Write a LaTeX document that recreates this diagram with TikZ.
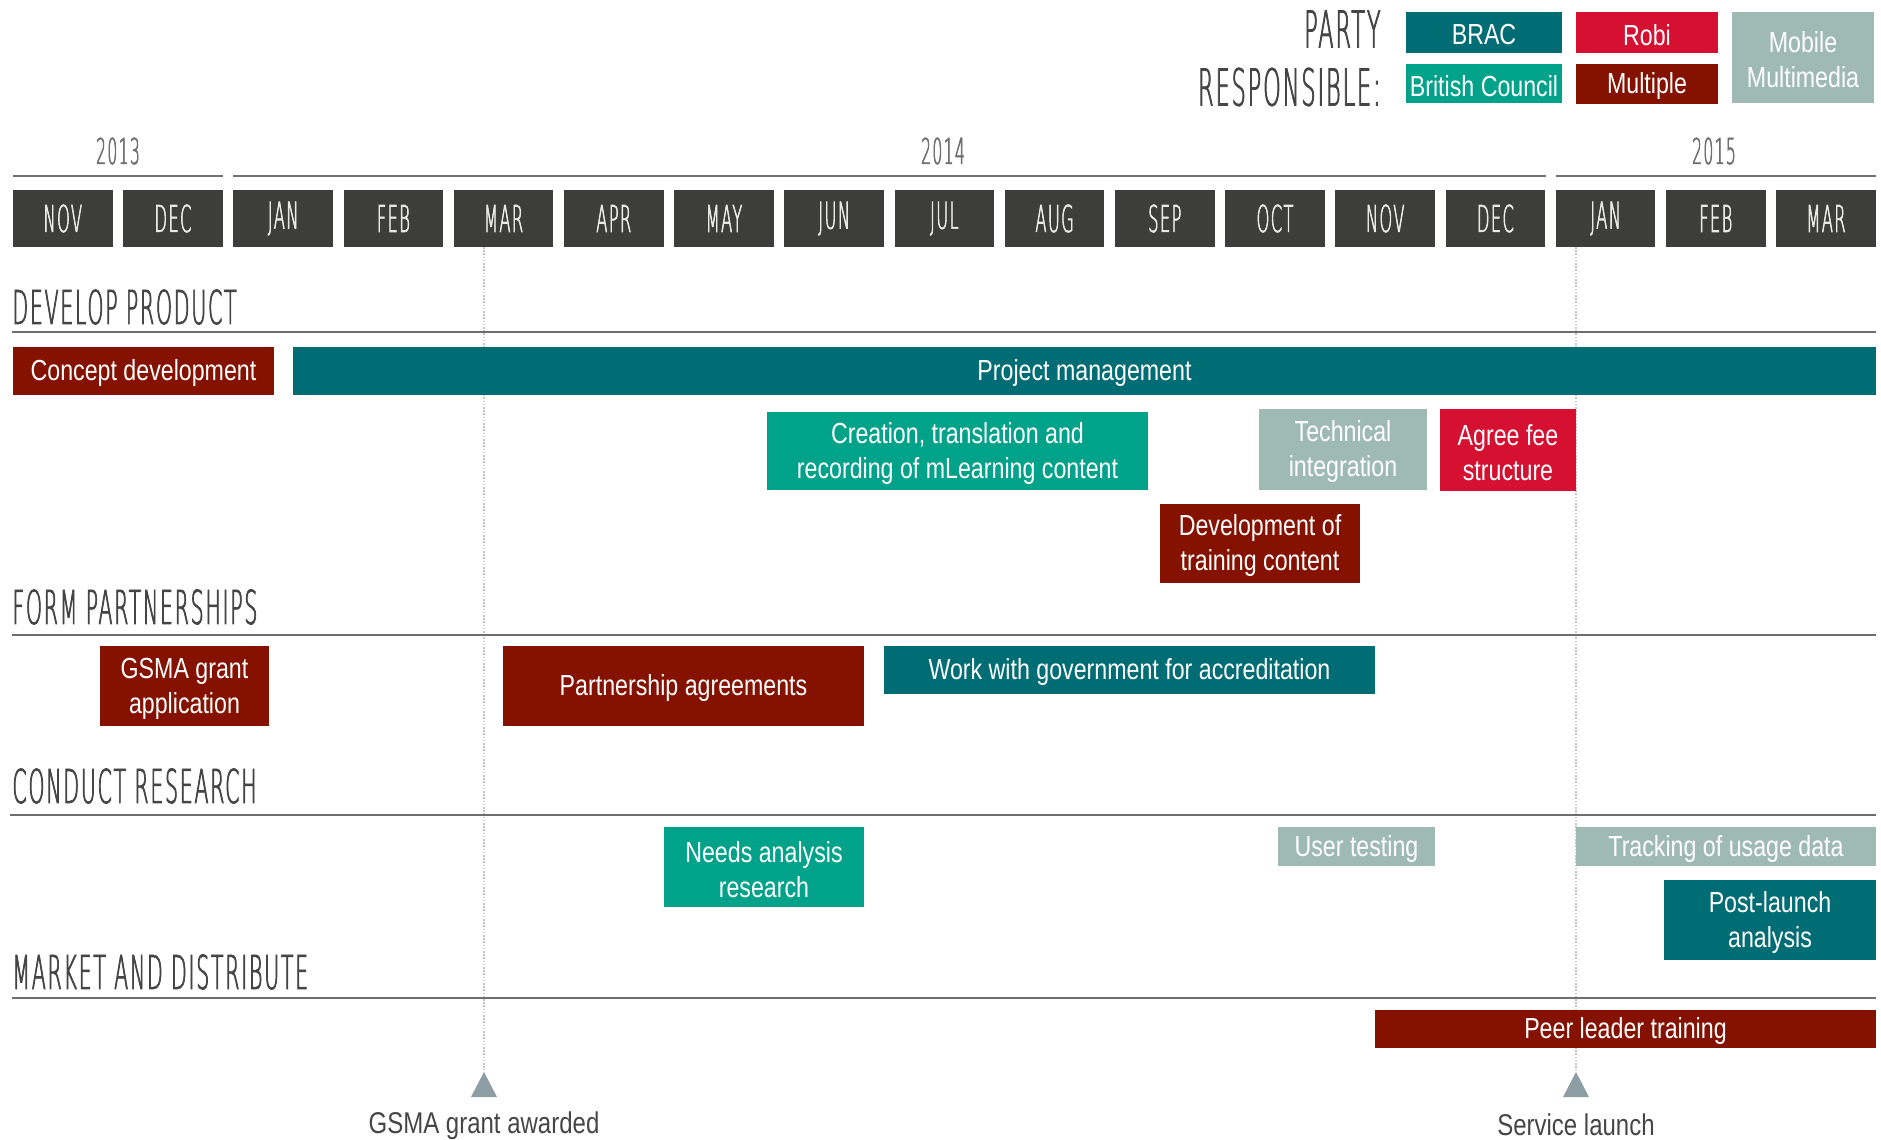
\documentclass[tikz,border=0pt]{standalone}
\usepackage{fontspec}
\setmainfont{Liberation Sans}
\newfontfamily\boxfont[FakeStretch=0.8]{Liberation Sans}
\newfontfamily\thinfont[FakeStretch=0.44, FakeBold=1.5, LetterSpace=3.7]{DejaVu Sans ExtraLight}
\definecolor{brac}{HTML}{006D75}
\definecolor{bc}{HTML}{00A38A}
\definecolor{robi}{HTML}{D51030}
\definecolor{multi}{HTML}{851200}
\definecolor{mobile}{HTML}{9FBAB3}
\definecolor{monthgray}{HTML}{3D3D3B}
\definecolor{monthtext}{HTML}{E8E8E8}
\definecolor{headgray}{HTML}{454545}
\definecolor{yeargray}{HTML}{707070}
\definecolor{rulegray}{HTML}{6E6E6E}
\definecolor{guidegray}{HTML}{C4C4C4}
\definecolor{markergray}{HTML}{8C9EA3}
\tikzset{
  bx/.style={inner sep=0pt, align=center, text=white,
    font=\boxfont\fontsize{14.5}{17.5}\selectfont},
  boxshape/.style={inner sep=0pt},
  monthbox/.style={fill=monthgray, minimum width=49.8pt, minimum height=28.5pt,
    inner sep=0pt, text=monthtext, font=\thinfont\fontsize{18.5}{20}\selectfont},
  heading/.style={anchor=west, inner sep=0pt, text=headgray,
    font=\thinfont\fontsize{23.3}{25}\selectfont},
  partylabel/.style={anchor=east, inner sep=0pt, text=headgray,
    font=\thinfont\fontsize{25.5}{28}\selectfont},
  yearlabel/.style={inner sep=0pt, text=yeargray,
    font=\thinfont\fontsize{17.8}{20}\selectfont},
  rule/.style={draw=rulegray, line width=1pt},
  yearline/.style={draw=yeargray, line width=1.3pt},
  guide/.style={draw=guidegray, line width=0.6pt, dash pattern=on 0.8pt off 0.8pt},
  marker/.style={fill=markergray},
  milestone/.style={inner sep=0pt, text=headgray,
    font=\boxfont\fontsize{15}{17}\selectfont}
}
% name, x1, y1, x2, y2, colour, text
\newcommand\gbox[7]{%
  \node[boxshape, fill=#6, minimum width={(#4-#2)*0.5pt}, minimum height={(#5-#3)*0.5pt},
    label={[bx, yshift=-1.2pt]center:{#7}}]
    (#1) at ({(#2+#4)/2},{(#3+#5)/2}) {};}
\begin{document}
\begin{tikzpicture}[x=0.5pt, y=-0.5pt]
\useasboundingbox (0,0) rectangle (1881,1140);

% guide lines (behind everything)
\coordinate (g1top) at (484,247);
\coordinate (g1bot) at (484,1070);
\coordinate (g2top) at (1576,247);
\coordinate (g2bot) at (1576,1070);
\draw[guide] (g1top) -- (g1bot);
\draw[guide] (g2top) -- (g2bot);

% legend
\node[partylabel] (party) at (1381,29) {PARTY};
\node[partylabel] (resp) at (1381,87) {RESPONSIBLE:};
\gbox{lbrac}{1406}{12}{1562}{53}{brac}{BRAC}
\gbox{lrobi}{1576}{12}{1718}{53}{robi}{Robi}
\gbox{lbc}{1406}{64}{1562}{103}{bc}{British Council}
\gbox{lmulti}{1576}{64}{1718}{104}{multi}{Multiple}
\gbox{lmobile}{1732}{12}{1874}{103}{mobile}{Mobile\\Multimedia}

% years
\node[yearlabel] (y2013) at (118,151) {2013};
\node[yearlabel] (y2014) at (943,151) {2014};
\node[yearlabel] (y2015) at (1714,151) {2015};
\draw[yearline] (13,176) -- (223,176);
\draw[yearline] (233,176) -- (1546,176);
\draw[yearline] (1556,176) -- (1876,176);

% months
\foreach \m [count=\i from 0] in {NOV,DEC,JAN,FEB,MAR,APR,MAY,JUN,JUL,AUG,SEP,OCT,NOV,DEC,JAN,FEB,MAR}{
  \node[monthbox] (m\i) at ({13+\i*110.2+49.8},218.5) {\m};
}

% section headings and rules
\node[heading] (hdev) at (12,307) {DEVELOP PRODUCT};
\draw[rule] (12,332) -- (1876,332);
\node[heading] (hform) at (12,607) {FORM PARTNERSHIPS};
\draw[rule] (12,635) -- (1876,635);
\node[heading] (hcond) at (12,786) {CONDUCT RESEARCH};
\draw[rule] (10,815) -- (1876,815);
\node[heading] (hmark) at (12,972) {MARKET AND DISTRIBUTE};
\draw[rule] (12,998) -- (1876,998);

% develop product
\gbox{concept}{13}{347}{274}{395}{multi}{Concept development}
\gbox{pm}{293}{347}{1876}{395}{brac}{Project management}
\gbox{creation}{767}{412}{1148}{490}{bc}{Creation, translation and\\recording of mLearning content}
\gbox{tech}{1259}{409}{1427}{490}{mobile}{Technical\\integration}
\gbox{fee}{1440}{409}{1576}{491}{robi}{Agree fee\\structure}
\gbox{train}{1160}{504}{1360}{583}{multi}{Development of\\training content}

% form partnerships
\gbox{gsmaapp}{100}{646}{269}{726}{multi}{GSMA grant\\application}
\gbox{partner}{503}{646}{864}{726}{multi}{Partnership agreements}
\gbox{gov}{884}{646}{1375}{694}{brac}{Work with government for accreditation}

% conduct research
\gbox{needs}{664}{827}{864}{907}{bc}{Needs analysis\\research}
\gbox{user}{1278}{827}{1435}{866}{mobile}{User testing}
\gbox{track}{1576}{827}{1876}{866}{mobile}{Tracking of usage data}
\gbox{post}{1664}{880}{1876}{960}{brac}{Post-launch\\analysis}

% market and distribute
\gbox{peer}{1375}{1010}{1876}{1048}{multi}{Peer leader training}

% milestones
\fill[marker] (484,1072) -- (497,1097) -- (471,1097) -- cycle;
\fill[marker] (1576,1072) -- (1589,1097) -- (1563,1097) -- cycle;
\node[milestone] (award) at (484,1126) {GSMA grant awarded};
\node[milestone] (launch) at (1576,1125) {Service launch};
\end{tikzpicture}
\end{document}
